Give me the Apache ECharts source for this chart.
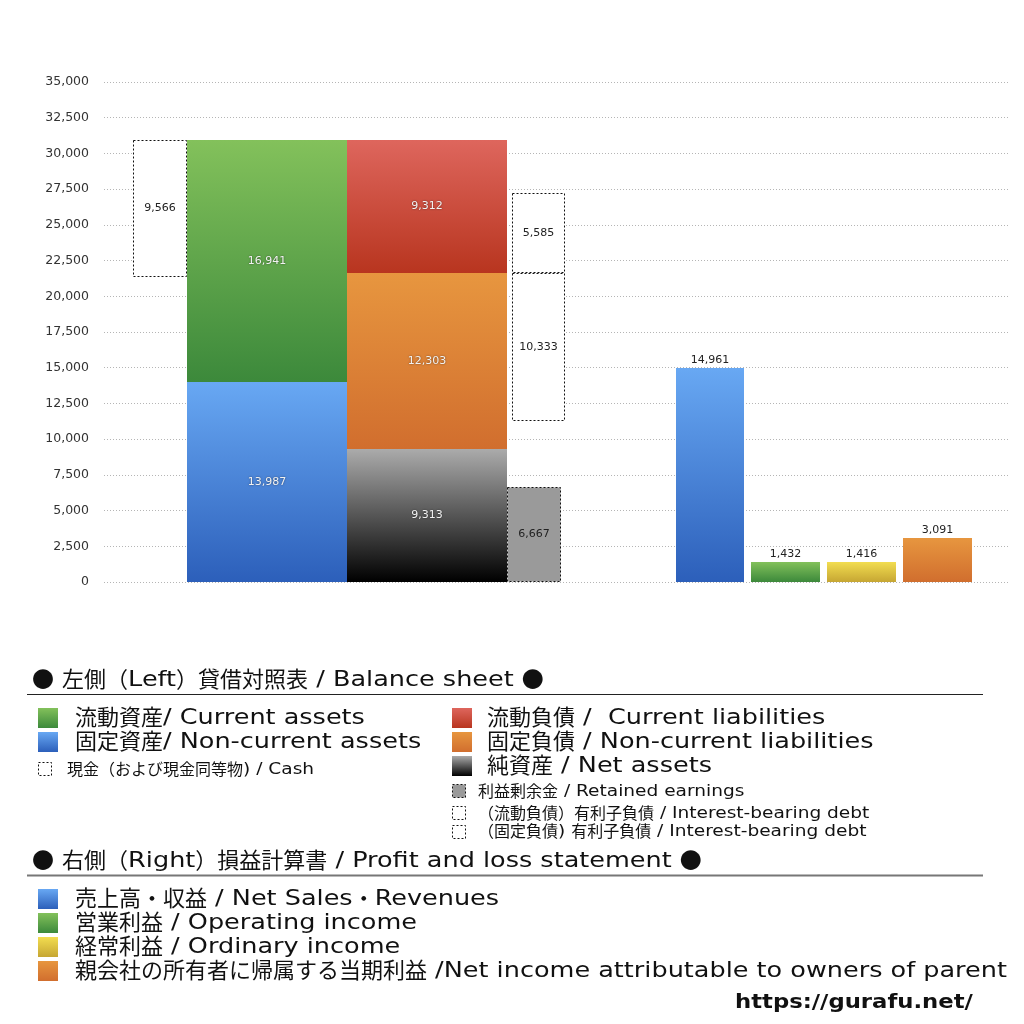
<!DOCTYPE html>
<html lang="ja">
<head>
    <meta charset="UTF-8">
    <title>貸借対照表・損益計算書</title>
    <script src="https://cdn.jsdelivr.net/npm/echarts@6/dist/echarts.min.js"></script>
    <style>
        body { margin: 0; background: #fff; }
        #main { width: 1024px; height: 1024px; }
    </style>
</head>
<body>
<div id="main"></div>
<script type="text/javascript">
    // 貸借対照表 (左側) の値
    var assetValues = [13987, 16941];            // 固定資産, 流動資産 (下から)
    var liabilityValues = [9313, 12303, 9312];   // 純資産, 固定負債, 流動負債 (下から)
    var cashValues = [9566];                     // 現金
    var retainedValues = [6667];                 // 利益剰余金
    var debtValues = [10333, 5585];              // 固定負債の有利子負債, 流動負債の有利子負債

    // 損益計算書 (右側) の値
    var plNames = ['売上高・収益', '営業利益', '経常利益', '親会社の所有者に帰属する当期利益'];
    var plValues = [14961, 1432, 1416, 3091];

    // y軸
    var yMin = 0, yMax = 35000, yStep = 2500;

    var font = '"DejaVu Sans", "Noto Sans CJK JP", sans-serif';
    var LATIN_FONT = '"DejaVu Sans"';
    var CJK_FONT = '"Noto Sans CJK JP"';
    var LATIN_SCALE = 1.16;

    function grad(top, bottom) {
        return new echarts.graphic.LinearGradient(0, 0, 0, 1, [
            {offset: 0, color: top}, {offset: 1, color: bottom}
        ]);
    }

    var GREEN = ['#83c15b', '#3c893b'];
    var BLUE = ['#68a8f3', '#2c5fba'];
    var RED = ['#de665d', '#b8351f'];
    var ORANGE = ['#e7963f', '#d16e2e'];
    var BLACK = ['#ababab', '#000000'];
    var YELLOW = ['#f2dd50', '#c6a633'];

    // 横位置 (グリッド左端からの px)
    var xCash = [29, 83], xAssets = [83, 243], xLiab = [243, 403];
    var xRetained = [403, 457], xDebt = [408, 461];
    var xPL = [[572, 640], [647, 716], [723, 792], [799, 868]];

    var rects = [];
    function add(x, lo, hi, val, kind, colors) {
        rects.push({value: [x[0], x[1], lo, hi, val], kind: kind, colors: colors});
    }

    // 資産
    var totalAssets = assetValues[0] + assetValues[1];
    add(xAssets, 0, assetValues[0], assetValues[0], 'solid', BLUE);
    add(xAssets, assetValues[0], totalAssets, assetValues[1], 'solid', GREEN);
    add(xCash, totalAssets - cashValues[0], totalAssets, cashValues[0], 'dash', null);
    // 負債・純資産
    var b1 = liabilityValues[0], b2 = b1 + liabilityValues[1];
    add(xLiab, 0, b1, liabilityValues[0], 'solid', BLACK);
    add(xLiab, b1, b2, liabilityValues[1], 'solid', ORANGE);
    add(xLiab, b2, b2 + liabilityValues[2], liabilityValues[2], 'solid', RED);
    add(xRetained, 0, retainedValues[0], retainedValues[0], 'gray', null);
    add(xDebt, b2 - debtValues[0], b2, debtValues[0], 'dash', null);
    add(xDebt, b2, b2 + debtValues[1], debtValues[1], 'dash', null);
    // 損益計算書
    var plColors = [BLUE, GREEN, YELLOW, ORANGE];
    plValues.forEach(function (v, i) {
        add(xPL[i], 0, v, v, 'pl', plColors[i]);
    });

    function renderRect(params, api) {
        var r = rects[params.dataIndex];
        var p0 = api.coord([api.value(0), api.value(3)]);
        var p1 = api.coord([api.value(1), api.value(2)]);
        var x = Math.round(p0[0]), y = Math.round(p0[1]);
        var w = Math.round(p1[0]) - x, h = Math.round(p1[1]) - y;
        var txt = api.value(4).toLocaleString('en-US');
        var style, label, shape;
        if (r.kind === 'dash' || r.kind === 'gray') {
            style = {fill: r.kind === 'gray' ? '#9a9a9a' : '#fff', stroke: '#111', lineWidth: 1, lineDash: [2, 2]};
            shape = {x: x + 0.5, y: y + 0.5, width: w - 1, height: h - 1};
            label = {x: x + w / 2, y: y + h / 2, text: txt, fill: '#222'};
        } else if (r.kind === 'pl') {
            style = {fill: grad(r.colors[0], r.colors[1])};
            shape = {x: x, y: y, width: w, height: h};
            label = {x: x + w / 2, y: y - 8, text: txt, fill: '#222'};
        } else {
            style = {fill: grad(r.colors[0], r.colors[1])};
            shape = {x: x, y: y, width: w, height: h};
            label = {x: x + w / 2, y: y + h / 2, text: txt, fill: '#f2f2f2',
                     textShadowColor: 'rgba(0,0,0,0.55)', textShadowBlur: 2};
        }
        label.fontSize = 11;
        label.fontFamily = font;
        label.align = 'center';
        label.verticalAlign = 'middle';
        return {
            type: 'group',
            children: [
                {type: 'rect', shape: shape, style: style, z2: r.kind === 'dash' ? 5 : 1},
                {type: 'text', style: label, z2: 10}
            ]
        };
    }

    // 凡例 (和文と欧文を分けて並べる)
    var g = [];
    var ctx = document.createElement('canvas').getContext('2d');
    function isCJK(ch) {
        var c = ch.charCodeAt(0);
        return c >= 0x2E80 || c === 0x25CF;
    }
    function txt(x, y, s, size, weight) {
        weight = weight || 'normal';
        var runs = [];
        for (var i = 0; i < s.length; i++) {
            var cjk = isCJK(s[i]);
            if (runs.length && runs[runs.length - 1].cjk === cjk) runs[runs.length - 1].t += s[i];
            else runs.push({cjk: cjk, t: s[i]});
        }
        var cx = x;
        runs.forEach(function (r) {
            var fam = r.cjk ? CJK_FONT : LATIN_FONT;
            var sx = r.cjk ? 1 : LATIN_SCALE;
            ctx.font = weight + ' ' + size + 'px ' + fam;
            var w = ctx.measureText(r.t).width;
            g.push({type: 'text', x: cx, y: r.cjk ? y - size * 0.07 : y, scaleX: sx,
                    style: {x: 0, y: 0, text: r.t, fontSize: size, fontFamily: fam, fontWeight: weight,
                            fill: '#111', verticalAlign: 'middle'}});
            cx += w * sx;
        });
    }
    function box(x, y, s, fill, dashed) {
        g.push({type: 'rect', shape: {x: x, y: y, width: s, height: s},
                style: dashed ? {fill: fill, stroke: '#111', lineWidth: 1, lineDash: [2, 2]} : {fill: fill}});
    }
    function line(y, color, width) {
        g.push({type: 'line', shape: {x1: 27, y1: y, x2: 983, y2: y}, style: {stroke: color, lineWidth: width}});
    }

    txt(32, 680, '● 左側（Left）貸借対照表 / Balance sheet ●', 22);
    line(694.5, '#222', 1);
    box(38, 708, 20, grad(GREEN[0], GREEN[1]));
    txt(75, 718, '流動資産/ Current assets', 22);
    box(38, 732, 20, grad(BLUE[0], BLUE[1]));
    txt(75, 742, '固定資産/ Non-current assets', 22);
    box(38.5, 762.5, 13, '#fff', true);
    txt(67, 770, '現金（および現金同等物) / Cash', 16);

    box(452, 708, 20, grad(RED[0], RED[1]));
    txt(487, 718, '流動負債 /  Current liabilities', 22);
    box(452, 732, 20, grad(ORANGE[0], ORANGE[1]));
    txt(487, 742, '固定負債 / Non-current liabilities', 22);
    box(452, 756, 20, grad(BLACK[0], BLACK[1]));
    txt(487, 766, '純資産 / Net assets', 22);
    box(452.5, 784.5, 13, '#9a9a9a', true);
    txt(478, 792, '利益剰余金 / Retained earnings', 16);
    box(452.5, 806.5, 13, '#fff', true);
    txt(478, 814, '（流動負債）有利子負債 / Interest-bearing debt', 16);
    box(452.5, 825.5, 13, '#fff', true);
    txt(478, 832, '（固定負債) 有利子負債 / Interest-bearing debt', 16);

    txt(32, 861, '● 右側（Right）損益計算書 / Profit and loss statement ●', 22);
    line(875.5, '#777', 2);
    var plEn = ['Net Sales・Revenues', 'Operating income', 'Ordinary income',
                'Net income attributable to owners of parent'];
    var plSep = [' / ', ' / ', ' / ', ' /'];
    plNames.forEach(function (n, i) {
        box(38, 889 + i * 24, 20, grad(plColors[i][0], plColors[i][1]));
        txt(75, 899 + i * 24, n + plSep[i] + plEn[i], 22);
    });
    txt(735, 1003, 'https://gurafu.net/', 19.6, 'bold');

    var myChart = echarts.init(document.getElementById('main'));
    var option = {
        animation: false,
        backgroundColor: '#fff',
        grid: {left: 104, right: 16, top: 82, bottom: 442},
        xAxis: {type: 'value', min: 0, max: 904, show: false},
        yAxis: {
            type: 'value',
            min: yMin, max: yMax, interval: yStep,
            axisLine: {show: false},
            axisTick: {show: false},
            axisLabel: {
                color: '#333', fontSize: 12.5, fontFamily: font, margin: 15,
                formatter: function (v) { return v.toLocaleString('en-US'); }
            },
            splitLine: {lineStyle: {type: [1, 2], color: '#b5b5b5', width: 1}}
        },
        series: [{
            type: 'custom',
            renderItem: renderRect,
            encode: {x: [0, 1], y: [2, 3]},
            data: rects.map(function (r) { return r.value; }),
            clip: false
        }],
        graphic: g
    };
    myChart.setOption(option);
</script>
</body>
</html>
